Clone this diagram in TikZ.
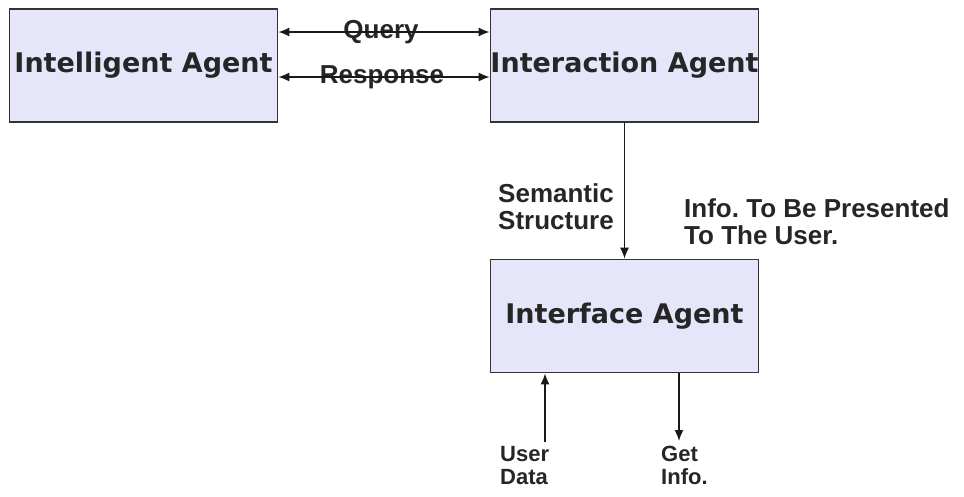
\documentclass[tikz,border=0pt]{standalone}
\usepackage{fontspec}
\newfontfamily\agentfont{DejaVu Sans}
\newfontfamily\labelfont{Liberation Sans}
\usetikzlibrary{arrows.meta}
\definecolor{agentfill}{HTML}{E6E6FA}
\definecolor{agentline}{HTML}{333333}
\frenchspacing
\tikzset{
  agent/.style={draw=agentline, fill=agentfill, line width=1.6pt, minimum width=268pt,
    minimum height=113pt, inner sep=0pt, text=black!85,
    font=\agentfont\bfseries\fontsize{27}{29}\selectfont},
  lbl/.style={inner sep=0pt, align=left, text=black!85,
    font=\labelfont\bfseries\fontsize{26}{27}\selectfont},
  small lbl/.style={lbl, anchor=north west,
    font=\labelfont\bfseries\fontsize{22}{23}\selectfont},
  link/.style={line width=1.6pt, draw=black!90},
  >={Latex[length=11pt,width=9pt]}
}
\begin{document}
\begin{tikzpicture}[x=1pt,y=-1pt]
        \useasboundingbox[fill=white] (0,0) rectangle (964,496);

        % agents
        \node[agent] (intel) at (143.5,65.5) {Intelligent Agent};
        \node[agent] (inter) at (624.5,65.5) {Interaction Agent};
        \node[agent] (iface) at (624.5,316) {Interface Agent};

        % query / response
        \node[lbl] (query) at (381,32) {Query};
        \node[lbl] (resp) at (382,77) {Response};
        \draw[link, <->] (intel.east |- query) -- (inter.west |- query);
        \draw[link, <->] (intel.east |- resp) -- (inter.west |- resp);

        % interaction to interface
        \draw[link, ->] (inter.south) -- (iface.north);
        \node[lbl, anchor=east] (sem) at (614,207) {Semantic\\Structure};
        \node[lbl, anchor=west] (info) at (684,222) {Info. To Be Presented\\To The User.};

        % user side
        \node[small lbl] (udata) at (500,446) {User\\Data};
        \node[small lbl] (ginfo) at (661,446) {Get\\Info.};
        \coordinate (udend) at (545,442);
        \coordinate (giend) at (679,441);
        \draw[link, ->] (udend) -- (udend |- iface.south);
        \draw[link, ->] (giend |- iface.south) -- (giend);

\end{tikzpicture}
\end{document}
